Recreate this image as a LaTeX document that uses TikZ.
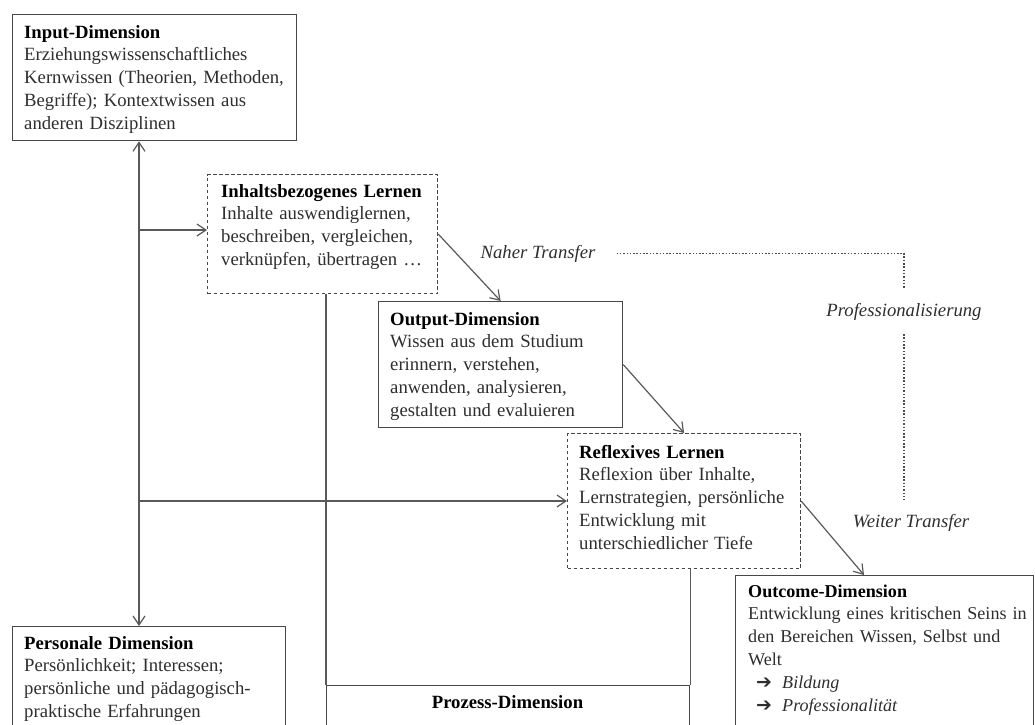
\documentclass[tikz,border=0pt]{standalone}
\usepackage{fontspec}
\setmainfont{Liberation Serif}[
  BoldFont = Liberation Serif Bold,
  ItalicFont = Liberation Serif Italic,
  BoldItalicFont = Liberation Serif Bold Italic]
\newfontfamily\symfont{DejaVu Sans}
\usetikzlibrary{arrows.meta,calc}
\begin{document}
\begin{tikzpicture}[x=1pt,y=-1pt,
  every node/.style={font=\fontsize{18.7}{22.8}\selectfont, text=black!82},
  box/.style={draw=black!72, line width=1.3pt, inner sep=0pt, anchor=north west},
  dbox/.style={box, dash pattern=on 3.5pt off 2.5pt},
  txt/.style={anchor=base west, inner sep=0pt, align=left, text width=320pt},
  conn/.style={draw=black!65, line width=1.2pt},
  arr/.style={conn, -{Straight Barb[length=9pt,width=12pt]}},
  darr/.style={conn, {Straight Barb[length=9pt,width=12pt]}-{Straight Barb[length=9pt,width=12pt]}},
  dotl/.style={draw=black!70, line width=1.3pt, dash pattern=on 1.5pt off 1.8pt},
  lab/.style={anchor=base, font=\fontsize{18.7}{22.8}\selectfont\itshape}
]
\useasboundingbox (0,0) rectangle (1035,724);

% boxes
\node[box,  minimum width=284pt, minimum height=126pt] (inp)  at (12,14)  {};
\node[dbox, minimum width=230pt, minimum height=119pt] (inh)  at (207,174) {};
\node[box,  minimum width=244pt, minimum height=126pt] (outp) at (378,301) {};
\node[dbox, minimum width=233pt, minimum height=135pt] (refl) at (567,433) {};
\node[box,  minimum width=273pt, minimum height=140pt] (pers) at (12,626) {};
\node[box,  minimum width=363pt, minimum height=90pt]  (prz)  at (326,685) {};
\node[box,  minimum width=298pt, minimum height=160pt] (outc) at (735,575) {};

% texts
\node[txt] (inpT) at (24,38) {\textbf{\color{black}Input-Dimension}\\
Erziehungswissenschaftliches\\
Kernwissen (Theorien, Methoden,\\
Begriffe); Kontextwissen aus\\
anderen Disziplinen};
\node[txt] (inhT) at (221,197) {\textbf{\color{black}Inhaltsbezogenes Lernen}\\
Inhalte auswendiglernen,\\
beschreiben, vergleichen,\\
verknüpfen, übertragen …};
\node[txt] (outpT) at (390,325) {\textbf{\color{black}Output-Dimension}\\
Wissen aus dem Studium\\
erinnern, verstehen,\\
anwenden, analysieren,\\
gestalten und evaluieren};
\node[txt] (reflT) at (579,458) {\textbf{\color{black}Reflexives Lernen}\\
Reflexion über Inhalte,\\
Lernstrategien, persönliche\\
Entwicklung mit\\
unterschiedlicher Tiefe};
\node[txt] (persT) at (24,649) {\textbf{\color{black}Personale Dimension}\\
Persönlichkeit; Interessen;\\
persönliche und pädagogisch-\\
praktische Erfahrungen};
\node[anchor=base, inner sep=0pt, text=black, font=\fontsize{18.7}{22.8}\selectfont\bfseries] (przT) at (507.5,708) {Prozess-Dimension};
\node[txt, font=\fontsize{18.1}{22.9}\selectfont] (outcT) at (748,597) {\textbf{\color{black}Outcome-Dimension}\\
Entwicklung eines kritischen Seins in\\
den Bereichen Wissen, Selbst und\\
Welt\\
\hspace*{8pt}\makebox[26pt][l]{\symfont\bfseries\fontsize{19}{19}\selectfont ➔}\textit{Bildung}\\
\hspace*{8pt}\makebox[26pt][l]{\symfont\bfseries\fontsize{19}{19}\selectfont ➔}\textit{Professionalität}};

% labels
\node[lab, inner xsep=21pt, inner ysep=0pt] (naher) at (538,258) {Naher Transfer};
\node[lab, inner xsep=0pt, inner ysep=14pt] (prof) at (904,316) {Professionalisierung};
\node[lab, inner xsep=0pt, inner ysep=14pt] (weiter) at (911,527) {Weiter Transfer};

% connectors
\coordinate (s1) at (139,230);
\coordinate (s2) at (139,501);
\draw[darr] (inp.south -| s1) -- (pers.north -| s1);
\draw[arr] (s1) -- (s1 -| inh.west);
\draw[arr] (s2) -- (s2 -| refl.west);
\draw[arr] (inh.east) -- (outp.north);
\draw[arr] (outp.east) -- (refl.north);
\coordinate (oin) at ([xshift=129pt]outc.north west);
\draw[arr] (refl.east) -- (oin);
\draw[conn] (prz.north west |- inh.south) -- (prz.north west);
\draw[conn] (prz.north east |- refl.south) -- (prz.north east);

% professionalisierung dotted
\draw[dotl] (naher.east) -| (prof.north);
\draw[dotl] (prof.south) -- (prof.south |- weiter.north);
\end{tikzpicture}
\end{document}
